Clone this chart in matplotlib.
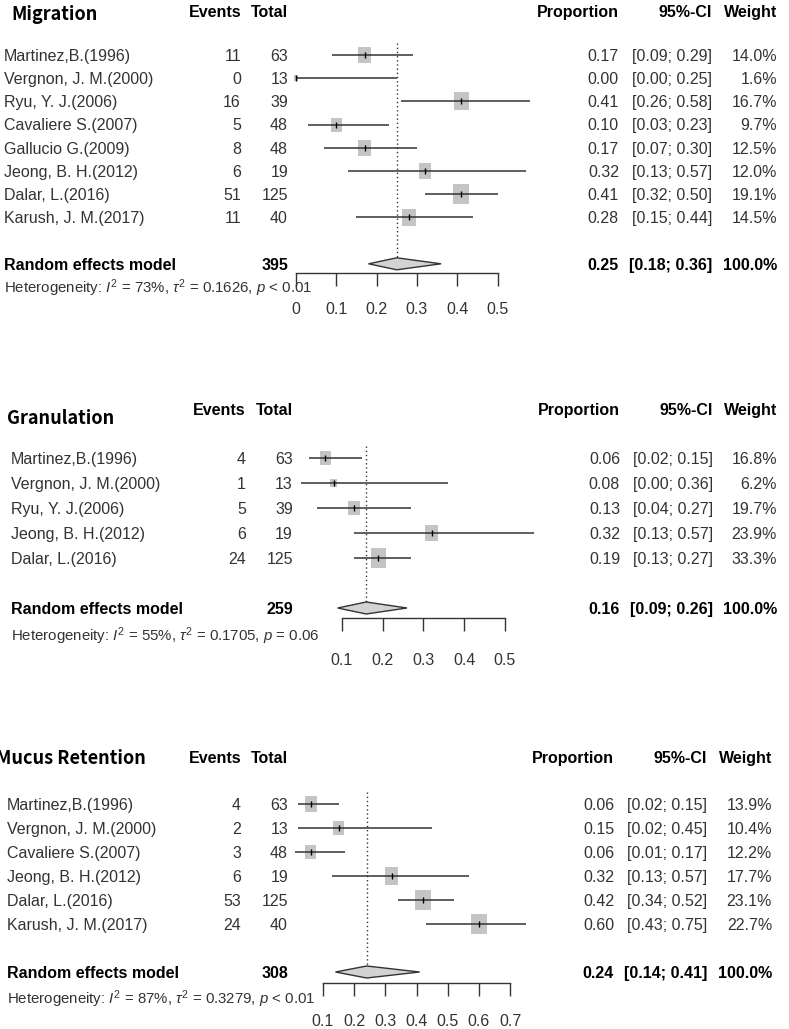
import matplotlib
matplotlib.use('Agg')
import matplotlib.pyplot as plt
import matplotlib.transforms as mtransforms
import numpy as np

W, H = 789, 1029

plt.rcParams['font.family'] = ['Liberation Sans', 'DejaVu Sans']
plt.rcParams['mathtext.fontset'] = 'custom'
plt.rcParams['mathtext.rm'] = 'Liberation Sans'
plt.rcParams['mathtext.it'] = 'Liberation Sans:italic'
plt.rcParams['mathtext.bf'] = 'Liberation Sans:bold'

# ---- data: Migration
mig_names = ["Martinez,B.(1996)", "Vergnon, J. M.(2000)", "Ryu, Y. J.(2006)", "Cavaliere S.(2007)",
             "Gallucio G.(2009)", "Jeong, B. H.(2012)", "Dalar, L.(2016)", "Karush, J. M.(2017)"]
mig_events = [11, 0, 16, 5, 8, 6, 51, 11]
mig_totals = [63, 13, 39, 48, 48, 19, 125, 40]
mig_prop = [0.17, 0.00, 0.41, 0.10, 0.17, 0.32, 0.41, 0.28]
mig_lo = [0.09, 0.00, 0.26, 0.03, 0.07, 0.13, 0.32, 0.15]
mig_hi = [0.29, 0.25, 0.58, 0.23, 0.30, 0.57, 0.50, 0.44]
mig_weight = [14.0, 1.6, 16.7, 9.7, 12.5, 12.0, 19.1, 14.5]
mig_summary = [0.25, 0.18, 0.36]
mig_n = 395
mig_het = ["73%", "0.1626", "< 0.01"]
mig_ticks = [0, 0.1, 0.2, 0.3, 0.4, 0.5]

# ---- data: Granulation
gra_names = ["Martinez,B.(1996)", "Vergnon, J. M.(2000)", "Ryu, Y. J.(2006)",
             "Jeong, B. H.(2012)", "Dalar, L.(2016)"]
gra_events = [4, 1, 5, 6, 24]
gra_totals = [63, 13, 39, 19, 125]
gra_prop = [0.06, 0.08, 0.13, 0.32, 0.19]
gra_lo = [0.02, 0.00, 0.04, 0.13, 0.13]
gra_hi = [0.15, 0.36, 0.27, 0.57, 0.27]
gra_weight = [16.8, 6.2, 19.7, 23.9, 33.3]
gra_summary = [0.16, 0.09, 0.26]
gra_n = 259
gra_het = ["55%", "0.1705", "= 0.06"]
gra_ticks = [0.1, 0.2, 0.3, 0.4, 0.5]

# ---- data: Mucus Retention
muc_names = ["Martinez,B.(1996)", "Vergnon, J. M.(2000)", "Cavaliere S.(2007)",
             "Jeong, B. H.(2012)", "Dalar, L.(2016)", "Karush, J. M.(2017)"]
muc_events = [4, 2, 3, 6, 53, 24]
muc_totals = [63, 13, 48, 19, 125, 40]
muc_prop = [0.06, 0.15, 0.06, 0.32, 0.42, 0.60]
muc_lo = [0.02, 0.02, 0.01, 0.13, 0.34, 0.43]
muc_hi = [0.15, 0.45, 0.17, 0.57, 0.52, 0.75]
muc_weight = [13.9, 10.4, 12.2, 17.7, 23.1, 22.7]
muc_summary = [0.24, 0.14, 0.41]
muc_n = 308
muc_het = ["87%", "0.3279", "< 0.01"]
muc_ticks = [0.1, 0.2, 0.3, 0.4, 0.5, 0.6, 0.7]

# ---- layout (pixel positions in the 789x1029 picture)
mig_layout = dict(title_x=11, title_y=14, head_y=11, row0=55, step=23.2, axis_y=273,
                  ax_x0=296, ax_x1=497.5, name_x=3.5, ev_x=241, tot_x=288,
                  prop_x=619, ci_x=712, wt_x=777, het_y=287, pad=12)
gra_layout = dict(title_x=7, title_y=418, head_y=409, row0=458, step=25.0, axis_y=618,
                  ax_x0=341.7, ax_x1=505, name_x=11, ev_x=246, tot_x=293,
                  prop_x=620, ci_x=713, wt_x=777, het_y=635, pad=16)
muc_layout = dict(title_x=-4, title_y=757, head_y=757, row0=804, step=24.0, axis_y=983,
                  ax_x0=323, ax_x1=510, name_x=7, ev_x=241, tot_x=288,
                  prop_x=614, ci_x=707, wt_x=772, het_y=998, pad=13)

FS = 11.5
HET_FS = 10.8
CAP = 0.716 * FS * 100 / 72   # cap height in px
TXT = '#333333'
SQ = '#C4C4C4'

fig = plt.figure(figsize=(W / 100, H / 100), dpi=100)

# rectangle marker, a bit narrower than tall like in the picture
box = [(-0.4, -0.5), (0.4, -0.5), (0.4, 0.5), (-0.4, 0.5)]


def forest(L, title, names, events, totals, prop, lo, hi, weight, summary, n, het, ticks):
    k = len(names)
    rows = np.arange(1, k + 1)
    srow = k + 2
    step = L['step']

    def row_of(py):
        return (py - L['row0']) / step + 1

    top_px = L['title_y'] - 20
    top_row = row_of(top_px)
    axis_row = row_of(L['axis_y'])
    ax = fig.add_axes([L['ax_x0'] / W, 1 - L['axis_y'] / H,
                       (L['ax_x1'] - L['ax_x0']) / W, (L['axis_y'] - top_px) / H])
    ax.set_xlim(ticks[0], ticks[-1])
    ax.set_ylim(axis_row, top_row)
    ax.patch.set_visible(False)
    for s in ['top', 'left', 'right']:
        ax.spines[s].set_visible(False)
    ax.spines['bottom'].set_color('#333333')
    ax.spines['bottom'].set_linewidth(1.0)
    ax.set_yticks([])
    ax.set_xticks(ticks)
    ax.set_xticklabels(['%g' % t for t in ticks])
    ax.tick_params(axis='x', direction='out', length=9, width=1.0, color='#333333',
                   pad=L['pad'], labelsize=FS, labelcolor=TXT)

    # squares, CI lines, point marks
    wmax = max(weight)
    sizes = [(14 * np.sqrt(w / wmax)) ** 2 for w in weight]
    ax.scatter(prop, rows, s=sizes, marker=box, color=SQ, linewidths=0, zorder=2, clip_on=False)
    ax.hlines(rows, lo, hi, color='#333333', lw=1.1, zorder=3, clip_on=False)
    ax.plot(prop, rows, ls='none', marker='|', ms=5, mew=1.0, color='black', zorder=4, clip_on=False)

    # diamond and dotted reference line
    est, slo, shi = summary
    hd = 6.0 / step
    ax.fill([slo, est, shi, est], [srow, srow - hd, srow, srow + hd],
            facecolor='#D3D3D3', edgecolor='#333333', lw=1.0, zorder=3, clip_on=False)
    ax.vlines(est, 0.5, srow - hd, color='#333333', lw=1.0, linestyles=(0, (1, 2)),
              zorder=1, clip_on=False)

    # text columns
    tr = mtransforms.blended_transform_factory(fig.transFigure, ax.transData)
    off = CAP / 2 / step

    def put(xpx, row, s, ha, bold=False, size=FS):
        ax.text(xpx / W, row + off, s, transform=tr, ha=ha, va='baseline', fontsize=size,
                color='black' if bold else TXT, fontweight='bold' if bold else 'normal')

    ax.text(L['title_x'] / W, row_of(L['title_y']) + 6.5 / step, title, transform=tr,
            ha='left', va='baseline', fontsize=13, fontweight='bold',
            family=['Noto Sans CJK KR', 'DejaVu Sans'], color='black')
    hrow = row_of(L['head_y'])
    put(L['ev_x'], hrow, 'Events', 'right', True)
    put(L['tot_x'], hrow, 'Total', 'right', True)
    put(L['prop_x'], hrow, 'Proportion', 'right', True)
    put(L['ci_x'], hrow, '95%-CI', 'right', True)
    put(L['wt_x'], hrow, 'Weight', 'right', True)

    for r, nm, e, t, p, a, b, w in zip(rows, names, events, totals, prop, lo, hi, weight):
        put(L['name_x'], r, nm, 'left')
        put(L['ev_x'], r, str(e), 'right')
        put(L['tot_x'], r, str(t), 'right')
        put(L['prop_x'], r, '%.2f' % p, 'right')
        put(L['ci_x'], r, '[%.2f; %.2f]' % (a, b), 'right')
        put(L['wt_x'], r, '%.1f%%' % w, 'right')

    put(L['name_x'], srow, 'Random effects model', 'left', True)
    put(L['tot_x'], srow, str(n), 'right', True)
    put(L['prop_x'], srow, '%.2f' % est, 'right', True)
    put(L['ci_x'], srow, '[%.2f; %.2f]' % (slo, shi), 'right', True)
    put(L['wt_x'], srow, '100.0%', 'right', True)

    i2, tau2, pval = het
    het_txt = r'Heterogeneity: $I^2$ = %s, $\tau^2$ = %s, $p$ %s' % (i2, tau2, pval)
    put(L['name_x'], row_of(L['het_y']), het_txt, 'left', size=HET_FS)
    return ax


forest(mig_layout, 'Migration', mig_names, mig_events, mig_totals, mig_prop, mig_lo, mig_hi,
       mig_weight, mig_summary, mig_n, mig_het, mig_ticks)
forest(gra_layout, 'Granulation', gra_names, gra_events, gra_totals, gra_prop, gra_lo, gra_hi,
       gra_weight, gra_summary, gra_n, gra_het, gra_ticks)
forest(muc_layout, 'Mucus Retention', muc_names, muc_events, muc_totals, muc_prop, muc_lo, muc_hi,
       muc_weight, muc_summary, muc_n, muc_het, muc_ticks)

fig.savefig('out.png', dpi=100)
